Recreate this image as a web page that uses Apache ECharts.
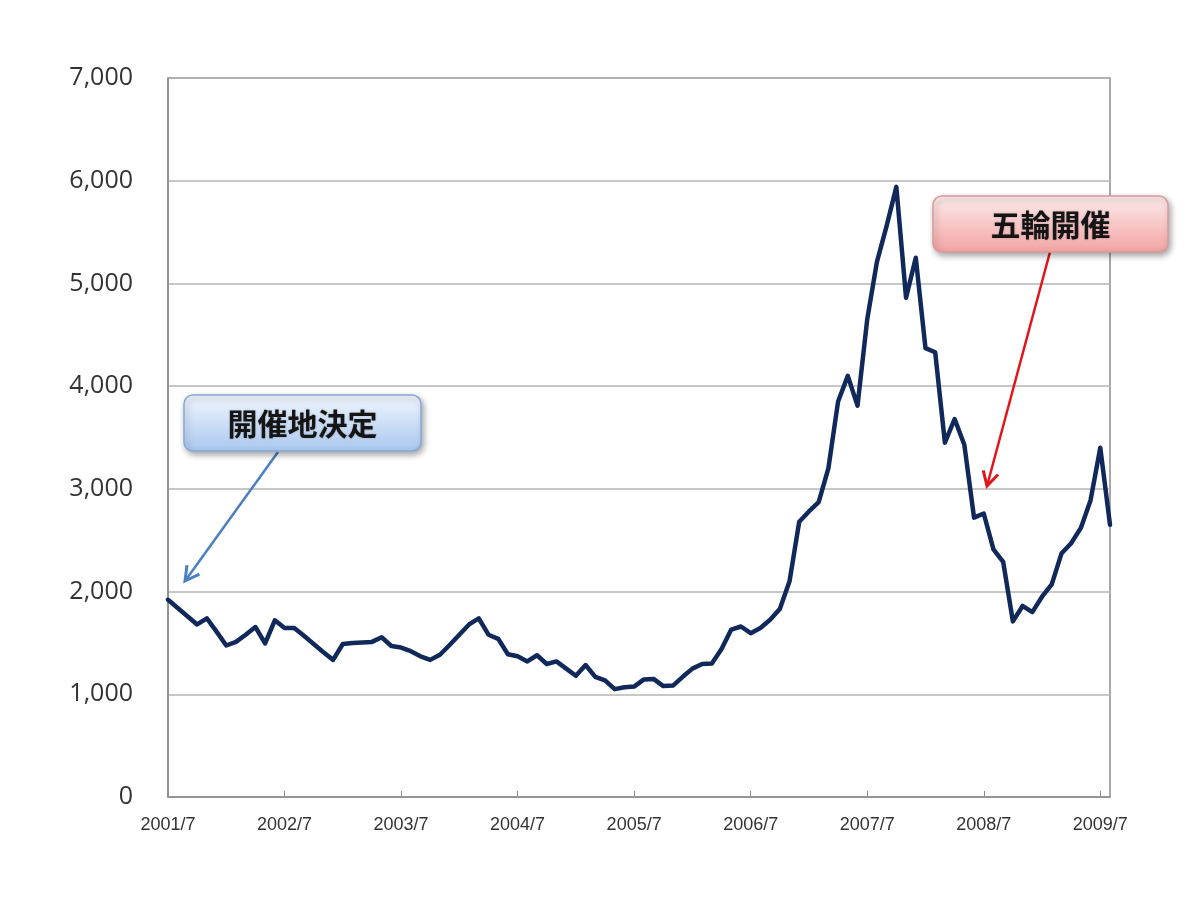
<!DOCTYPE html>
<html>
<head>
<meta charset="utf-8">
<script src="https://cdn.jsdelivr.net/npm/echarts@6.0.0/dist/echarts.min.js"></script>
<style>
  html, body { margin: 0; padding: 0; background: #fff; }
  #priceChart { width: 1200px; height: 900px; }
</style>
</head>
<body>
<div id="priceChart"></div>
<script>
// monthly series, 2001/7 .. 2009/8
var startYear = 2001;
var startMonth = 7;
var prices = [
  1920, 1840, 1760, 1680, 1740, 1610, 1475, 1510, 1580, 1655,
  1495, 1720, 1645, 1645, 1570, 1490, 1410, 1335, 1490, 1500,
  1505, 1510, 1555, 1470, 1455, 1420, 1370, 1335, 1385, 1480,
  1580, 1680, 1740, 1580, 1540, 1390, 1370, 1320, 1380, 1295,
  1320, 1250, 1180, 1285, 1170, 1135, 1050, 1068, 1075, 1145,
  1150, 1080, 1085, 1170, 1250, 1295, 1300, 1440, 1630, 1660,
  1595, 1645, 1725, 1830, 2100, 2680, 2780, 2870, 3200, 3850,
  4100, 3810, 4650, 5210, 5560, 5940, 4860, 5250, 4370, 4330,
  3450, 3680, 3430, 2720, 2760, 2410, 2290, 1710, 1860, 1800,
  1950, 2070, 2370, 2470, 2620, 2890, 3400, 2650
];
var noteTexts = ['開催地決定', '五輪開催'];

var months = [];
for (var i = 0; i < prices.length; i++) {
  var m = startMonth - 1 + i;
  months.push((startYear + Math.floor(m / 12)) + '/' + (m % 12 + 1));
}

var chart = echarts.init(document.getElementById('priceChart'));

function arrow(x1, y1, x2, y2, color) {
  var ang = Math.atan2(y2 - y1, x2 - x1);
  var len = 16, spread = 0.5;
  var p1 = [x2 - len * Math.cos(ang - spread), y2 - len * Math.sin(ang - spread)];
  var p2 = [x2 - len * Math.cos(ang + spread), y2 - len * Math.sin(ang + spread)];
  return [{
    type: 'line',
    z: 50,
    shape: { x1: x1, y1: y1, x2: x2, y2: y2 },
    style: { stroke: color, lineWidth: 2.5 }
  }, {
    type: 'polyline',
    z: 50,
    shape: { points: [p1, [x2, y2], p2] },
    style: { stroke: color, lineWidth: 3, fill: null }
  }];
}

function noteBox(x, y, w, h, text, top, bottom, border) {
  return [{
    type: 'rect',
    z: 60,
    shape: { x: x, y: y, width: w, height: h, r: 9 },
    style: {
      fill: new echarts.graphic.LinearGradient(0, 0, 0, 1, [
        { offset: 0, color: top },
        { offset: 1, color: bottom }
      ]),
      stroke: border,
      lineWidth: 1.5,
      shadowBlur: 6,
      shadowOffsetX: 2,
      shadowOffsetY: 3,
      shadowColor: 'rgba(0,0,0,0.35)'
    }
  }, {
    type: 'text',
    z: 61,
    x: x + w / 2,
    y: y + h / 2 + 1,
    style: {
      text: text,
      align: 'center',
      verticalAlign: 'middle',
      fontFamily: '"Noto Sans CJK JP"',
      fontWeight: 'bold',
      fontSize: 30,
      fill: '#151515',
      textShadowColor: 'rgba(0,0,0,0.25)',
      textShadowBlur: 2
    }
  }];
}

var graphics = []
  .concat(arrow(278, 452, 185, 581, '#4a80c2'))
  .concat(noteBox(184, 395, 237, 56, noteTexts[0], '#f2f7fe', '#a9c7ef', '#86a8d8'))
  .concat(arrow(1050, 252, 987, 486, '#e3151b'))
  .concat(noteBox(933, 196, 235, 56, noteTexts[1], '#fdecec', '#f3a3a3', '#dc9a9a'));

var option = {
  animation: false,
  backgroundColor: '#fff',
  grid: {
    left: 168,
    top: 78,
    width: 942,
    height: 719,
    show: true,
    borderColor: '#8c8c8c',
    borderWidth: 1.5
  },
  xAxis: {
    type: 'category',
    data: months,
    boundaryGap: false,
    axisLine: { lineStyle: { color: '#8c8c8c', width: 1.5 } },
    axisTick: { inside: true, length: 6, interval: 11, lineStyle: { color: '#8c8c8c' } },
    axisLabel: {
      interval: 11,
      margin: 19,
      fontFamily: 'Liberation Sans',
      fontSize: 18,
      color: '#333'
    },
    splitLine: { show: false }
  },
  yAxis: {
    type: 'value',
    min: 0,
    max: 7000,
    interval: 1000,
    axisLine: { show: true, lineStyle: { color: '#8c8c8c', width: 1.5 } },
    axisTick: { show: false },
    axisLabel: {
      margin: 35,
      fontFamily: 'Open Sans',
      fontSize: 25,
      color: '#333',
      formatter: function(v) { return v.toLocaleString('en-US'); }
    },
    splitLine: { lineStyle: { color: '#b5b5b5', width: 1.5 } }
  },
  series: [{
    type: 'line',
    data: prices,
    symbol: 'none',
    lineStyle: { color: '#10295a', width: 4.5, join: 'round', cap: 'round' }
  }],
  graphic: graphics
};

chart.setOption(option);
</script>
</body>
</html>
